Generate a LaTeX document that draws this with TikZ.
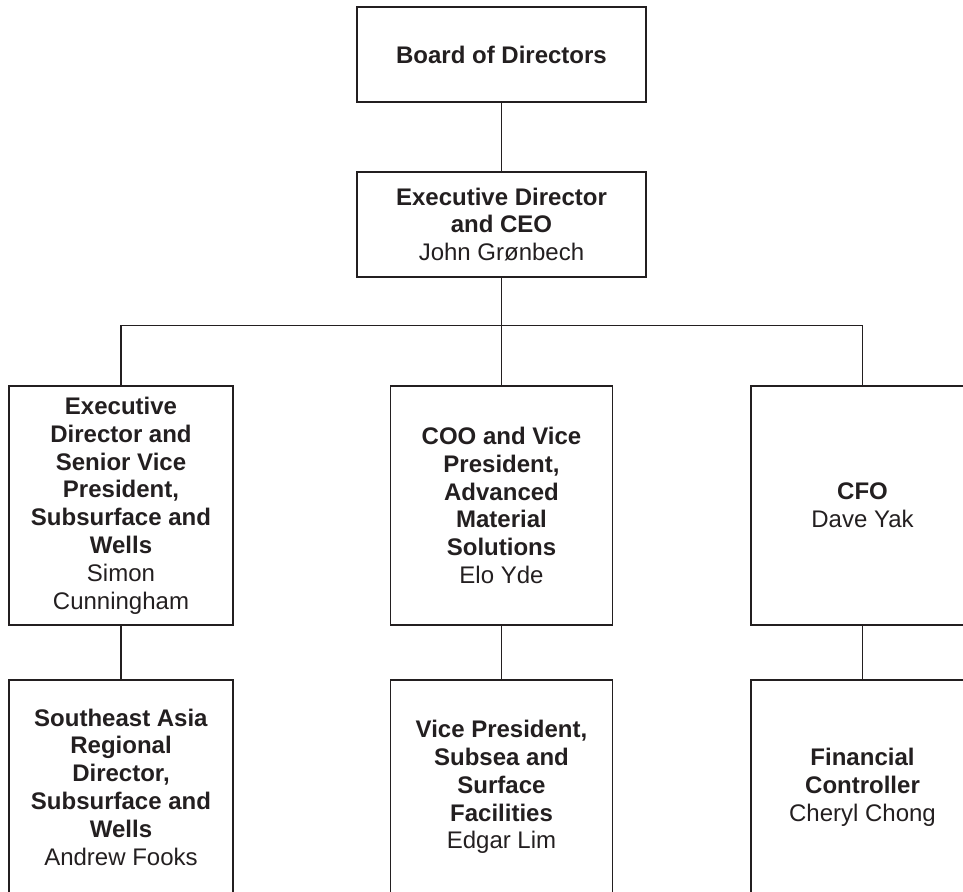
\documentclass[tikz,border=0pt]{standalone}
\usepackage{fontspec}
\setmainfont{Liberation Sans}
\definecolor{inchiostro}{RGB}{35,31,32}
\tikzset{
  riquadro/.style={draw=inchiostro, line width=0.7pt, text=inchiostro, align=center,
    inner sep=0pt, font=\fontsize{12}{13.9}\selectfont},
  linea/.style={draw=inchiostro, line width=0.7pt}
}
\begin{document}
\begin{tikzpicture}[x=0.5pt, y=-0.5pt]
  \useasboundingbox (0,0) rectangle (963,891);
  \clip (0,0) rectangle (963,891);
  %vertice
  \node[riquadro, minimum width=144.5pt, minimum height=47.5pt] (board) at (501.5,54.5)
    {\textbf{Board of Directors}};
  \node[riquadro, minimum width=144.5pt, minimum height=52.5pt] (ceo) at (501.5,224.5)
    {\textbf{Executive Director}\\\textbf{and CEO}\\John Grønbech};
  %primo livello
  \node[riquadro, minimum width=112pt, minimum height=119.5pt] (svp) at (121,505.5)
    {\textbf{Executive}\\\textbf{Director and}\\\textbf{Senior Vice}\\\textbf{President,}\\\textbf{Subsurface and}\\\textbf{Wells}\\Simon\\Cunningham};
  \node[riquadro, minimum width=111pt, minimum height=119.5pt] (coo) at (501.5,505.5)
    {\textbf{COO and Vice}\\\textbf{President,}\\\textbf{Advanced}\\\textbf{Material}\\\textbf{Solutions}\\Elo Yde};
  \node[riquadro, minimum width=111.5pt, minimum height=119.5pt] (cfo) at (862.5,505.5)
    {\textbf{CFO}\\Dave Yak};
  %secondo livello
  \node[riquadro, minimum width=112pt, minimum height=107pt] (sea) at (121,787)
    {\textbf{Southeast Asia}\\\textbf{Regional}\\\textbf{Director,}\\\textbf{Subsurface and}\\\textbf{Wells}\\Andrew Fooks};
  \node[riquadro, minimum width=111pt, minimum height=107pt] (vps) at (501.5,787)
    {\textbf{Vice President,}\\\textbf{Subsea and}\\\textbf{Surface}\\\textbf{Facilities}\\Edgar Lim};
  \node[riquadro, minimum width=111.5pt, minimum height=107pt] (fc) at (862.5,787)
    {\textbf{Financial}\\\textbf{Controller}\\Cheryl Chong};
  %collegamenti
  \coordinate (bus) at (501.5,325.7);
  \draw[linea] (board) -- (ceo);
  \draw[linea] (ceo) -- (bus);
  \draw[linea] (svp.north) |- (bus) -| (cfo.north);
  \draw[linea] (bus) -- (coo);
  \draw[linea] (svp) -- (sea);
  \draw[linea] (coo) -- (vps);
  \draw[linea] (cfo) -- (fc);
\end{tikzpicture}
\end{document}
